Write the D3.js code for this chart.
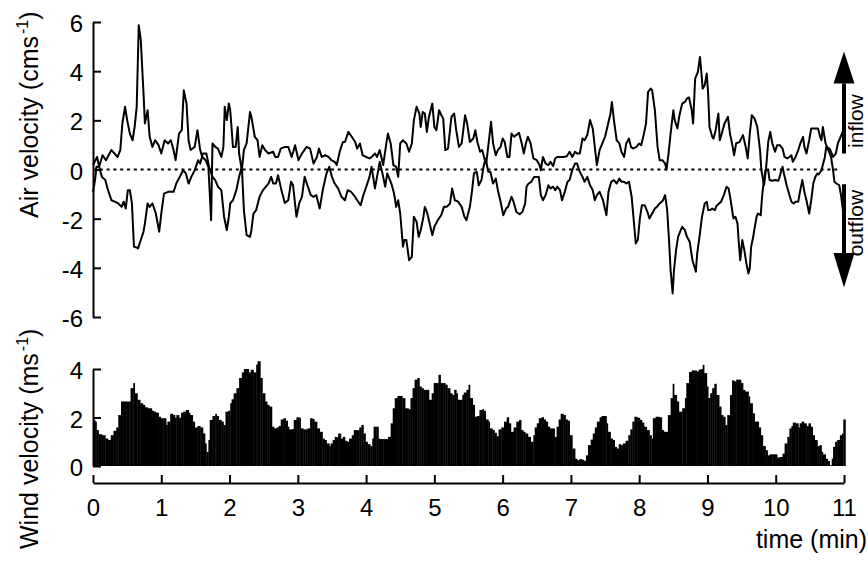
<!DOCTYPE html>
<html><head><meta charset="utf-8">
<script src="https://cdn.jsdelivr.net/npm/d3@7"></script>
<style>
body{margin:0;background:#fff}
svg{display:block}
text{font-family:"Liberation Sans",Arial,sans-serif;fill:#000}
</style>
</head><body>
<svg id="c" width="868" height="562"></svg>
<script>
// ---- data ----
const timeTicks = [0,1,2,3,4,5,6,7,8,9,10,11];
const airTicks = [-6,-4,-2,0,2,4,6];
const windTicks = [0,2,4];

// air velocity, inflow trace [time (min), cm/s]
const inflow = [[0.00,0.18],[0.06,0.51],[0.09,0.11],[0.14,0.58],[0.19,0.38],[0.27,0.79],[0.36,0.51],[0.40,0.79],[0.43,1.87],[0.47,2.55],[0.50,2.01],[0.54,1.46],[0.58,1.19],[0.61,1.73],[0.64,2.55],[0.67,5.87],[0.70,5.26],[0.74,3.09],[0.76,1.87],[0.80,2.41],[0.83,1.33],[0.87,0.92],[0.91,1.19],[0.96,0.99],[1.00,0.65],[1.05,1.19],[1.10,1.06],[1.14,1.19],[1.18,0.79],[1.21,0.38],[1.26,1.46],[1.30,1.60],[1.33,3.22],[1.37,2.68],[1.40,1.19],[1.43,0.79],[1.49,0.92],[1.53,1.60],[1.57,0.79],[1.60,0.51],[1.65,0.38],[1.69,0.11],[1.73,-2.06],[1.75,1.06],[1.79,0.92],[1.83,0.85],[1.88,0.51],[1.91,0.92],[1.93,2.55],[1.96,2.01],[1.99,2.68],[2.01,2.41],[2.05,0.92],[2.09,0.92],[2.12,1.73],[2.14,0.65],[2.18,-0.03],[2.21,0.79],[2.25,1.06],[2.30,2.34],[2.32,2.14],[2.37,1.33],[2.41,1.19],[2.44,0.51],[2.48,0.99],[2.52,0.79],[2.57,0.65],
[2.64,0.72],[2.67,0.51],[2.71,0.51],[2.75,0.85],[2.81,0.92],[2.86,0.92],[2.91,0.51],[2.96,0.99],[3.01,0.38],[3.06,0.65],[3.13,0.92],[3.18,0.85],[3.23,0.24],[3.28,0.51],[3.31,0.85],[3.35,0.51],[3.40,0.58],[3.45,0.51],[3.49,0.38],[3.54,0.31],[3.57,0.18],[3.62,0.79],[3.66,1.12],[3.69,1.12],[3.74,1.53],[3.79,1.33],[3.84,1.12],[3.87,0.85],[3.91,1.06],[3.95,0.58],[4.00,0.51],[4.05,0.45],[4.08,0.51],[4.13,0.65],[4.16,0.51],[4.20,0.79],[4.25,0.18],[4.30,1.12],[4.32,1.46],[4.36,1.06],[4.40,0.18],[4.44,0.11],[4.47,-0.30],[4.50,1.06],[4.54,1.19],[4.59,1.06],[4.63,0.72],[4.67,1.06],[4.70,2.01],[4.74,2.55],[4.78,2.28],[4.80,1.73],[4.83,2.34],[4.86,2.28],[4.89,1.53],[4.92,2.14],[4.97,2.68],[5.00,1.73],[5.03,1.60],[5.07,2.41],[5.09,2.28],[5.13,2.07],[5.16,0.79],[5.20,0.85],[5.25,2.14],[5.29,2.28],[5.32,1.60],[5.36,0.92],[5.40,1.06],[5.45,2.21],[5.48,1.87],[5.52,1.12],
[5.57,1.26],[5.60,1.60],[5.63,1.12],[5.67,0.72],[5.70,0.79],[5.74,0.38],[5.76,0.24],[5.83,1.94],[5.86,1.06],[5.90,0.58],[5.93,0.79],[5.97,0.92],[6.00,1.26],[6.03,1.12],[6.07,0.51],[6.10,0.51],[6.13,1.46],[6.17,1.33],[6.20,1.40],[6.24,1.49],[6.28,1.06],[6.31,0.65],[6.34,1.06],[6.37,1.33],[6.41,1.06],[6.45,0.45],[6.50,0.38],[6.54,0.18],[6.56,-0.03],[6.59,0.51],[6.63,0.24],[6.67,0.18],[6.70,0.31],[6.74,0.14],[6.77,0.45],[6.80,0.51],[6.89,0.51],[6.94,0.54],[6.98,0.72],[7.02,0.51],[7.06,0.72],[7.09,0.65],[7.13,0.65],[7.17,1.26],[7.20,1.19],[7.24,1.40],[7.28,2.01],[7.32,1.67],[7.35,0.92],[7.38,0.18],[7.42,0.79],[7.46,1.06],[7.50,1.33],[7.54,1.80],[7.58,2.28],[7.60,2.75],[7.63,2.01],[7.67,1.19],[7.71,1.06],[7.74,0.72],[7.78,0.51],[7.81,1.06],[7.85,1.26],[7.88,0.92],[7.91,0.85],[7.96,0.92],[8.00,1.06],[8.03,0.99],[8.07,1.46],[8.10,1.87],[8.13,3.16],[8.17,3.29],[8.19,3.22],[8.23,2.41],[8.27,0.90],[8.30,0.38],
[8.34,0.38],[8.38,0.24],[8.40,0.00],[8.43,0.65],[8.46,1.46],[8.50,2.41],[8.52,2.01],[8.56,1.67],[8.59,2.21],[8.63,2.68],[8.67,2.75],[8.70,2.89],[8.73,2.93],[8.77,2.41],[8.79,1.87],[8.82,3.70],[8.86,3.97],[8.89,4.58],[8.91,3.97],[8.93,3.29],[8.96,3.43],[8.99,3.90],[9.01,3.09],[9.03,1.73],[9.07,1.33],[9.09,1.26],[9.12,1.60],[9.16,2.28],[9.18,1.19],[9.21,1.46],[9.25,1.87],[9.30,2.14],[9.33,1.46],[9.37,0.92],[9.39,0.58],[9.42,1.06],[9.47,1.12],[9.52,1.40],[9.56,0.92],[9.59,0.45],[9.62,1.46],[9.65,2.21],[9.69,2.07],[9.73,1.73],[9.77,0.79],[9.79,-0.03],[9.83,-0.64],[9.86,0.11],[9.89,1.12],[9.92,1.53],[9.95,1.06],[9.99,0.72],[10.02,0.99],[10.06,0.99],[10.10,0.85],[10.13,0.51],[10.17,0.45],[10.20,0.51],[10.23,0.58],[10.25,0.31],[10.29,0.51],[10.33,0.79],[10.36,1.06],[10.40,1.33],[10.42,0.92],[10.45,0.65],[10.49,1.19],[10.52,1.67],[10.56,1.67],[10.60,1.67],[10.62,1.67],[10.65,1.33],[10.67,1.19],[10.69,1.73],[10.73,1.06],[10.77,0.79],[10.81,0.51],[10.84,-0.03],[10.86,-0.50],[10.89,-0.57],[10.93,-0.64],[10.96,-1.11],[10.99,-1.79]];

// air velocity, outflow trace [time (min), cm/s]
const outflow = [[0.00,-0.91],[0.03,-0.43],[0.05,0.11],[0.09,0.11],[0.13,-0.30],[0.18,-0.43],[0.22,-0.84],[0.27,-1.25],[0.32,-1.31],[0.37,-1.38],[0.42,-1.52],[0.45,-1.31],[0.48,-1.59],[0.51,-0.84],[0.54,-0.84],[0.57,-1.38],[0.60,-3.14],[0.64,-3.17],[0.66,-3.21],[0.70,-2.87],[0.74,-2.53],[0.76,-2.20],[0.80,-1.38],[0.83,-1.52],[0.87,-1.38],[0.92,-1.79],[0.97,-2.53],[1.00,-1.79],[1.04,-0.98],[1.10,-0.91],[1.18,-0.91],[1.22,-0.57],[1.27,-0.30],[1.32,-0.03],[1.36,-0.16],[1.40,-0.57],[1.44,-0.30],[1.49,-0.03],[1.54,0.38],[1.57,0.24],[1.61,0.65],[1.66,0.65],[1.70,0.11],[1.75,-0.30],[1.79,-0.43],[1.83,-0.70],[1.88,-0.84],[1.92,-1.92],[1.96,-2.47],[1.99,-1.92],[2.01,-1.38],[2.05,-1.25],[2.10,-0.84],[2.14,-0.30],[2.18,0.11],[2.21,-1.65],[2.25,-2.67],[2.30,-2.74],[2.32,-2.47],[2.35,-1.79],[2.39,-1.65],[2.44,-1.11],[2.49,-0.84],[2.57,-0.57],[2.61,-0.30],
[2.64,-0.57],[2.68,-0.57],[2.71,-0.23],[2.76,-0.84],[2.81,-1.36],[2.86,-1.25],[2.90,-0.50],[2.93,-0.64],[2.98,-1.92],[3.02,-1.38],[3.06,-1.11],[3.10,-0.30],[3.14,-0.64],[3.19,-1.04],[3.23,-1.11],[3.27,-1.04],[3.32,-1.59],[3.37,-0.77],[3.42,-0.16],[3.46,0.11],[3.50,-0.30],[3.54,-0.57],[3.59,-0.77],[3.64,-1.11],[3.69,-1.25],[3.73,-0.84],[3.78,-0.91],[3.82,-1.04],[3.87,-1.25],[3.92,-1.45],[3.96,-1.04],[4.01,-0.64],[4.05,-0.30],[4.08,0.11],[4.13,-0.77],[4.16,-0.30],[4.20,0.31],[4.24,-0.16],[4.28,-0.70],[4.31,-0.16],[4.37,-0.57],[4.41,-0.98],[4.44,-1.52],[4.47,-1.25],[4.50,-1.79],[4.54,-3.14],[4.56,-2.87],[4.59,-2.87],[4.63,-3.69],[4.67,-3.55],[4.70,-1.92],[4.74,-2.13],[4.77,-2.74],[4.80,-2.47],[4.84,-1.92],[4.86,-1.52],[4.89,-1.72],[4.92,-2.06],[4.97,-2.67],[5.00,-2.33],[5.05,-2.06],[5.10,-1.86],[5.14,-1.52],[5.18,-1.52],[5.23,-1.38],[5.26,-0.77],[5.30,-1.25],[5.35,-1.31],[5.40,-1.52],[5.44,-1.92],[5.47,-2.06],[5.52,-1.52],
[5.55,-0.91],[5.58,-0.16],[5.62,-0.09],[5.65,-0.64],[5.69,-0.43],[5.72,0.11],[5.75,0.45],[5.79,-0.09],[5.82,-0.09],[5.86,-0.57],[5.90,-0.37],[5.93,-0.84],[5.97,-1.31],[6.01,-1.86],[6.05,-1.59],[6.08,-1.52],[6.13,-1.11],[6.16,-1.31],[6.20,-1.72],[6.25,-1.82],[6.29,-1.72],[6.33,-1.38],[6.35,-0.70],[6.38,-0.57],[6.42,-0.50],[6.46,-0.30],[6.50,-0.30],[6.53,-0.30],[6.56,-1.04],[6.59,-1.25],[6.63,-1.04],[6.67,-0.64],[6.70,-0.77],[6.74,-0.70],[6.77,-0.84],[6.80,-0.70],[6.84,-0.84],[6.87,-1.25],[6.91,-0.91],[6.95,-0.50],[6.98,-0.43],[7.02,-0.03],[7.06,0.24],[7.09,0.24],[7.13,-0.09],[7.17,-0.30],[7.20,-0.50],[7.24,-0.30],[7.28,-0.64],[7.32,-0.84],[7.35,-1.25],[7.38,-1.04],[7.42,-0.91],[7.47,-1.25],[7.52,-1.86],[7.55,-0.91],[7.59,-0.50],[7.63,-0.43],[7.67,-0.57],[7.71,-0.37],[7.74,-0.50],[7.78,-0.50],[7.81,-0.57],[7.85,-0.50],[7.89,-1.11],[7.92,-2.06],[7.95,-3.01],[7.98,-2.87],[8.01,-1.99],[8.04,-1.45],[8.08,-1.45],[8.12,-1.72],[8.15,-1.99],[8.19,-1.79],[8.23,-1.59],[8.26,-1.52],[8.30,-1.38],
[8.35,-1.25],[8.38,-1.04],[8.41,-1.65],[8.44,-3.01],[8.46,-4.09],[8.49,-5.04],[8.51,-4.09],[8.54,-3.28],[8.57,-2.74],[8.60,-2.53],[8.63,-2.33],[8.67,-2.47],[8.70,-2.74],[8.74,-2.94],[8.78,-3.69],[8.81,-3.96],[8.83,-4.16],[8.85,-3.41],[8.89,-2.60],[8.92,-1.92],[8.96,-1.38],[8.99,-1.31],[9.01,-1.65],[9.04,-1.65],[9.07,-1.59],[9.11,-1.65],[9.13,-1.49],[9.17,-1.38],[9.20,-1.31],[9.24,-1.04],[9.28,-0.70],[9.31,-0.77],[9.34,-1.25],[9.38,-1.99],[9.41,-1.92],[9.44,-2.20],[9.46,-3.01],[9.48,-3.69],[9.51,-2.87],[9.54,-3.28],[9.57,-3.82],[9.60,-4.23],[9.62,-4.02],[9.64,-3.14],[9.67,-2.74],[9.69,-2.40],[9.72,-1.92],[9.74,-1.79],[9.78,-1.86],[9.80,-1.11],[9.82,-0.57],[9.85,-0.03],[9.89,-0.03],[9.91,-0.43],[9.95,-0.46],[9.99,-0.43],[10.04,-0.46],[10.07,-0.16],[10.10,0.11],[10.12,-0.16],[10.16,-0.64],[10.20,-1.04],[10.23,-1.31],[10.26,-1.38],[10.29,-1.31],[10.33,-1.31],[10.35,-0.98],[10.39,-0.43],[10.42,-0.91],[10.45,-1.25],[10.49,-1.79],[10.52,-1.25],[10.55,-0.57],[10.58,-0.30],[10.61,-0.16],[10.63,-0.20],[10.67,-0.03],[10.72,0.51],[10.74,0.92],[10.79,0.85],[10.84,0.51],[10.88,0.65],[10.91,1.06],[10.95,1.33],[10.99,1.60]];

// wind velocity bars [time (min), m/s]
const wind = [[0.00,1.90],[0.03,1.83],[0.05,1.48],[0.08,1.31],[0.13,1.27],[0.18,1.13],[0.22,1.07],[0.26,1.27],[0.30,1.45],[0.34,1.59],[0.37,2.10],[0.41,2.66],[0.44,2.66],[0.49,2.66],[0.53,2.66],[0.55,3.21],[0.59,3.42],[0.61,3.00],[0.65,2.73],[0.69,2.59],[0.73,2.52],[0.76,2.42],[0.80,2.38],[0.83,2.38],[0.86,2.28],[0.89,2.24],[0.92,2.20],[0.96,2.03],[0.99,1.97],[1.03,1.97],[1.07,1.69],[1.09,1.83],[1.13,2.15],[1.17,2.10],[1.20,1.99],[1.22,2.10],[1.26,1.99],[1.29,2.20],[1.32,2.24],[1.36,2.31],[1.40,2.20],[1.42,2.10],[1.46,1.83],[1.49,1.59],[1.53,1.65],[1.57,1.59],[1.61,1.34],[1.64,0.93],[1.66,0.58],[1.69,1.07],[1.71,1.90],[1.75,2.06],[1.79,2.15],[1.81,2.06],[1.84,1.90],[1.86,1.90],[1.88,1.83],[1.91,1.69],[1.94,2.24],[1.98,2.28],[2.01,2.59],[2.03,2.75],[2.06,3.00],[2.10,3.21],[2.14,3.63],[2.18,3.86],[2.21,4.00],[2.25,4.00],[2.28,3.86],[2.31,3.97],[2.35,3.86],[2.39,4.18],[2.41,4.32],[2.45,3.63],[2.48,3.00],[2.52,2.66],[2.55,2.52],[2.58,2.45],[2.62,1.62],[2.65,1.55],[2.69,1.59],[2.72,1.65],[2.75,1.92],[2.79,1.97],[2.82,1.87],[2.85,1.62],[2.87,1.51],[2.91,1.52],[2.94,1.90],[2.98,2.01],[3.02,1.99],[3.04,1.55],[3.08,1.51],[3.11,1.51],[3.14,1.55],[3.18,1.97],[3.21,1.94],[3.24,1.83],[3.28,1.55],[3.32,1.41],[3.36,1.13],[3.39,1.07],[3.42,0.93],[3.46,0.82],[3.48,0.93],[3.51,1.07],[3.54,1.20],[3.57,1.18],[3.59,1.34],[3.63,1.13],[3.66,1.20],[3.69,1.04],[3.72,1.00],[3.75,1.13],[3.79,1.27],[3.82,1.48],[3.86,1.48],[3.90,1.59],[3.93,1.69],[3.96,1.34],[3.99,1.00],[4.02,0.90],[4.06,0.82],[4.09,1.13],[4.11,1.62],[4.15,1.62],[4.18,1.13],[4.20,1.11],[4.25,1.11],[4.29,1.11],[4.32,1.20],[4.36,1.76],[4.39,2.38],[4.42,2.80],[4.46,2.89],[4.49,2.89],[4.53,2.80],[4.57,2.38],[4.62,2.34],[4.65,2.80],[4.68,3.21],[4.71,3.56],[4.75,3.63],[4.78,3.28],[4.81,3.21],[4.84,3.14],[4.87,3.14],[4.90,3.14],[4.92,2.73],[4.96,3.00],[4.99,3.42],[5.02,3.42],[5.06,3.76],[5.09,3.42],[5.13,3.42],[5.16,3.35],[5.19,3.21],[5.23,3.00],[5.26,2.93],[5.29,3.14],[5.32,3.00],[5.34,2.73],[5.37,2.73],[5.41,2.93],[5.43,3.03],[5.47,3.14],[5.50,3.35],[5.52,2.80],[5.56,2.52],[5.59,2.03],[5.62,2.06],[5.66,2.31],
[5.70,2.34],[5.72,2.28],[5.75,1.92],[5.79,1.83],[5.81,1.55],[5.85,1.48],[5.88,1.37],[5.91,1.23],[5.94,1.51],[5.98,1.59],[6.02,1.83],[6.06,2.01],[6.09,1.76],[6.12,1.41],[6.16,1.59],[6.20,1.83],[6.24,1.90],[6.27,1.48],[6.30,1.41],[6.33,1.34],[6.37,1.20],[6.41,1.00],[6.45,1.27],[6.47,1.59],[6.50,1.76],[6.53,1.97],[6.57,2.01],[6.60,1.92],[6.63,1.83],[6.66,1.62],[6.69,1.55],[6.72,1.55],[6.76,1.20],[6.79,1.62],[6.82,1.92],[6.85,2.15],[6.89,2.10],[6.92,1.92],[6.95,1.87],[6.98,1.27],[7.02,0.72],[7.06,0.30],[7.09,0.24],[7.12,0.28],[7.16,0.26],[7.19,0.21],[7.22,0.44],[7.25,0.86],[7.29,1.09],[7.32,1.34],[7.35,1.59],[7.38,1.83],[7.42,2.01],[7.45,2.06],[7.48,2.06],[7.52,1.76],[7.54,1.41],[7.58,1.13],[7.61,1.07],[7.64,0.79],[7.67,0.72],[7.70,0.90],[7.73,0.86],[7.76,0.93],[7.80,1.04],[7.84,1.27],[7.87,1.51],[7.90,1.83],[7.93,2.03],[7.97,1.99],[8.01,1.90],[8.04,1.79],[8.07,1.62],[8.11,1.48],[8.15,1.27],[8.18,1.13],[8.20,1.97],[8.24,2.03],[8.27,2.03],[8.30,2.01],[8.33,1.48],[8.36,1.41],[8.39,1.41],[8.42,2.10],[8.46,2.80],[8.49,3.39],[8.51,2.93],[8.55,2.66],[8.58,2.24],[8.61,2.24],[8.63,2.38],[8.67,2.80],[8.69,3.42],[8.73,3.88],[8.77,3.94],[8.80,3.94],[8.84,3.90],[8.87,3.97],[8.90,4.00],[8.93,4.17],[8.95,3.83],[8.99,3.28],[9.01,2.80],[9.04,3.00],[9.07,3.21],[9.10,3.39],[9.13,2.93],[9.17,2.45],[9.20,2.10],[9.23,2.03],[9.26,1.69],[9.29,2.10],[9.33,2.93],[9.36,3.53],[9.39,3.49],[9.42,3.56],[9.46,3.56],[9.49,3.42],[9.52,3.14],[9.55,3.07],[9.60,2.87],[9.62,2.59],[9.66,2.17],[9.69,1.83],[9.72,1.83],[9.75,1.59],[9.78,1.27],[9.81,0.82],[9.85,0.65],[9.88,0.44],[9.91,0.48],[9.95,0.48],[9.99,0.48],[10.02,0.35],[10.06,0.37],[10.10,0.51],[10.13,0.93],[10.17,1.20],[10.20,1.55],[10.23,1.65],[10.25,1.79],[10.29,1.76],[10.33,1.59],[10.35,1.76],[10.38,1.83],[10.41,1.76],[10.45,1.65],[10.48,1.76],[10.51,1.62],[10.54,1.27],[10.57,1.07],[10.61,0.82],[10.64,0.86],[10.67,0.58],[10.69,0.48],[10.73,0.30],[10.76,0.21],[10.79,0.03],[10.82,0.30],[10.84,0.79],[10.87,1.00],[10.90,1.07],[10.94,1.27],[10.97,1.34],[10.99,1.92]];

// ---- drawing ----
const FS = 24, FT = 25;
const svg = d3.select('#c');
const x = d3.scaleLinear().domain([0, 11]).range([93, 844]);
const yA = d3.scaleLinear().domain([-6, 6]).range([317, 22]);
const yW = d3.scaleLinear().domain([0, 4]).range([466, 369]);

function styleAxis(g){
  g.selectAll('path.domain').attr('stroke','#000').attr('stroke-width',2);
  g.selectAll('.tick line').attr('stroke','#000').attr('stroke-width',2);
  g.selectAll('.tick text').attr('font-size',FS).attr('font-family','"Liberation Sans",Arial,sans-serif').attr('fill','#000');
}

// wind bars
const lastW = 0.03;
svg.append('g').selectAll('rect').data(wind).join('rect')
  .attr('x', d => x(d[0]))
  .attr('width', (d,i) => {
    const t2 = i < wind.length-1 ? wind[i+1][0] : d[0] + lastW;
    return x(t2) - x(d[0]) + 0.4;
  })
  .attr('y', d => yW(d[1]))
  .attr('height', d => yW(0) - yW(d[1]))
  .attr('fill', '#000');

// zero line
svg.append('line')
  .attr('x1', x(0)).attr('x2', x(10.9))
  .attr('y1', yA(0)).attr('y2', yA(0))
  .attr('stroke','#000').attr('stroke-width',1.8).attr('stroke-dasharray','3,3.8');

// air velocity traces
const line = d3.line().x(d => x(d[0])).y(d => yA(d[1]));
[inflow, outflow].forEach(s => {
  svg.append('path').attr('d', line(s)).attr('fill','none')
    .attr('stroke','#000').attr('stroke-width',2).attr('stroke-linejoin','round');
});

// axes
const gA = svg.append('g').attr('transform', `translate(${x(0)},0)`)
  .call(d3.axisLeft(yA).tickValues(airTicks).tickSizeInner(-8).tickSizeOuter(0).tickPadding(10).tickFormat(d => String(d)));
styleAxis(gA);
const gW = svg.append('g').attr('transform', `translate(${x(0)},0)`)
  .call(d3.axisLeft(yW).tickValues(windTicks).tickSizeInner(-8).tickSizeOuter(0).tickPadding(10).tickFormat(d => String(d)));
styleAxis(gW);
const gX = svg.append('g').attr('transform', 'translate(0,483)')
  .call(d3.axisBottom(x).tickValues(timeTicks).tickSizeInner(-8).tickSizeOuter(0).tickPadding(16).tickFormat(d => String(d)));
styleAxis(gX);
[gA, gW].forEach(g => g.selectAll('.tick text').attr('dy','0.4em'));

// axis titles
function rotTitle(xp, yp, main, sup){
  const t = svg.append('text').attr('transform', `translate(${xp},${yp}) rotate(-90)`)
    .attr('font-size', FT).attr('text-anchor','start');
  t.append('tspan').text(main);
  t.append('tspan').attr('font-size', 16).attr('dx', 2).attr('dy', -10).text(sup);
  t.append('tspan').attr('dy', 10).text(')');
}
rotTitle(38, 218, 'Air velocity (cms', '-1');
rotTitle(38, 549, 'Wind velocity (ms', '-1');

svg.append('text').attr('x', 867).attr('y', 548).attr('text-anchor','end')
  .attr('font-size', FT).text('time (min)');

// inflow / outflow arrows
const ax = x(11), hw = 10.5;
function arrow(vTip, vBase, vEnd){
  svg.append('line').attr('x1', ax).attr('x2', ax).attr('y1', yA(vBase)).attr('y2', yA(vEnd))
    .attr('stroke','#000').attr('stroke-width',4);
  svg.append('path').attr('d', `M${ax-hw},${yA(vBase)}L${ax+hw},${yA(vBase)}L${ax},${yA(vTip)}Z`).attr('fill','#000');
}
arrow(4.8, 3.5, 0.65);
arrow(-4.8, -3.4, -0.6);

svg.append('text').attr('transform', `translate(863,${yA(1.97)}) rotate(-90)`)
  .attr('font-size', 21).attr('text-anchor','middle').text('inflow');
svg.append('text').attr('transform', `translate(863,${yA(-2.18)}) rotate(-90)`)
  .attr('font-size', 21).attr('text-anchor','middle').text('outflow');
</script>
</body></html>
